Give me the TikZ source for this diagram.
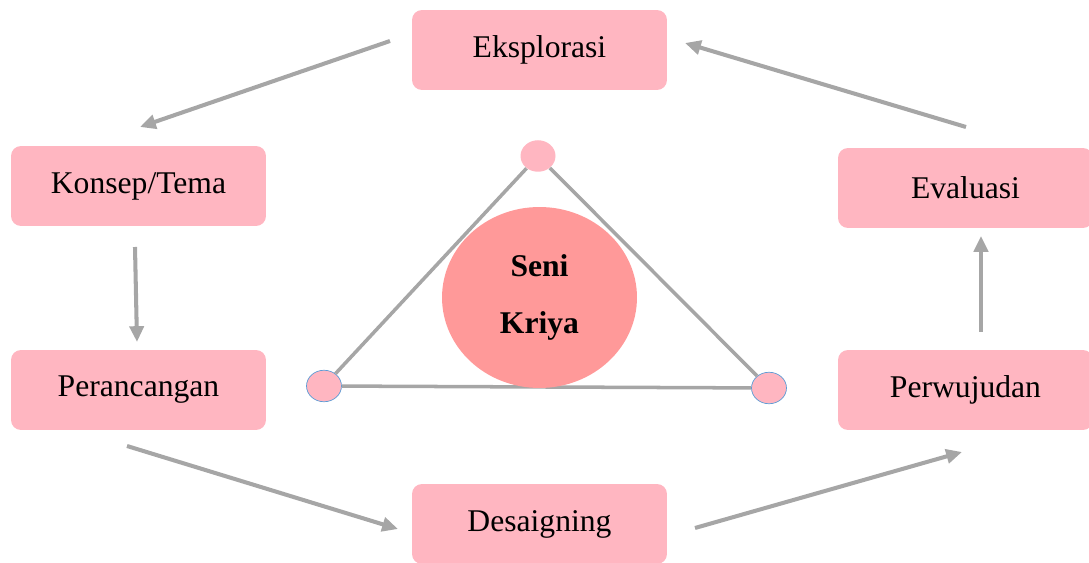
\documentclass[tikz,border=0pt]{standalone}
\usepackage{fontspec}
\setmainfont{Liberation Serif}
\usetikzlibrary{arrows.meta,shapes.geometric}
\definecolor{boxpink}{HTML}{FFB6C1}
\definecolor{corepink}{HTML}{FF9999}
\definecolor{flowgray}{HTML}{A6A6A6}
\definecolor{rimblue}{HTML}{5B9BD5}

\begin{document}
\begin{tikzpicture}[x=0.02cm,y=-0.02cm,
  stage/.style={fill=boxpink,rounded corners=0.2cm,minimum width=5.1cm,minimum height=1.6cm,font=\fontsize{18}{22}\selectfont},
  flow/.style={draw=flowgray,line width=2.3pt,-{Triangle[length=9pt,width=8pt]}},
  joint/.style={ellipse,fill=boxpink,minimum width=0.7cm,minimum height=0.63cm,inner sep=0pt},
  edge/.style={draw=flowgray,line width=2pt}]

\useasboundingbox (0,0) rectangle (1089,563);

% stages round the cycle
\node[stage] (eks) at (539.5,50) {Eksplorasi};
\node[stage] (kon) at (138.5,186) {Konsep/Tema};
\node[stage] (per) at (138.5,390) {Perancangan};
\node[stage] (des) at (539.5,524) {Desaigning};
\node[stage] (wuj) at (965.5,390) {Perwujudan};
\node[stage] (eva) at (965.5,188) {Evaluasi};

% free ends of the arrows
\foreach \n/\p in {s1/{390,41},t1/{140,127},s2/{135,247},t2/{137,342},s3/{127,446},t3/{398,529},
  s4/{695,528},t4/{962,452},s5/{981,332},t5/{981,236},s6/{966,127},t6/{685,43}}
  \coordinate (\n) at (\p);
\foreach \i in {1,...,6}
  \draw[flow] (s\i) -- (t\i);

% triangle in the middle
\node[joint] (top) at (538,156) {};
\node[joint,draw=rimblue,thin] (lft) at (324,386) {};
\node[joint,draw=rimblue,thin] (rgt) at (769,388) {};
\draw[edge] (top) -- (lft);
\draw[edge] (top) -- (rgt);
\draw[edge] (lft) -- (rgt);

\node[ellipse,fill=corepink,minimum width=3.9cm,minimum height=3.62cm,align=center,
  font=\fontsize{18}{32}\selectfont\bfseries] (core) at (539.5,297.5) {Seni\\Kriya};
\end{tikzpicture}
\end{document}
